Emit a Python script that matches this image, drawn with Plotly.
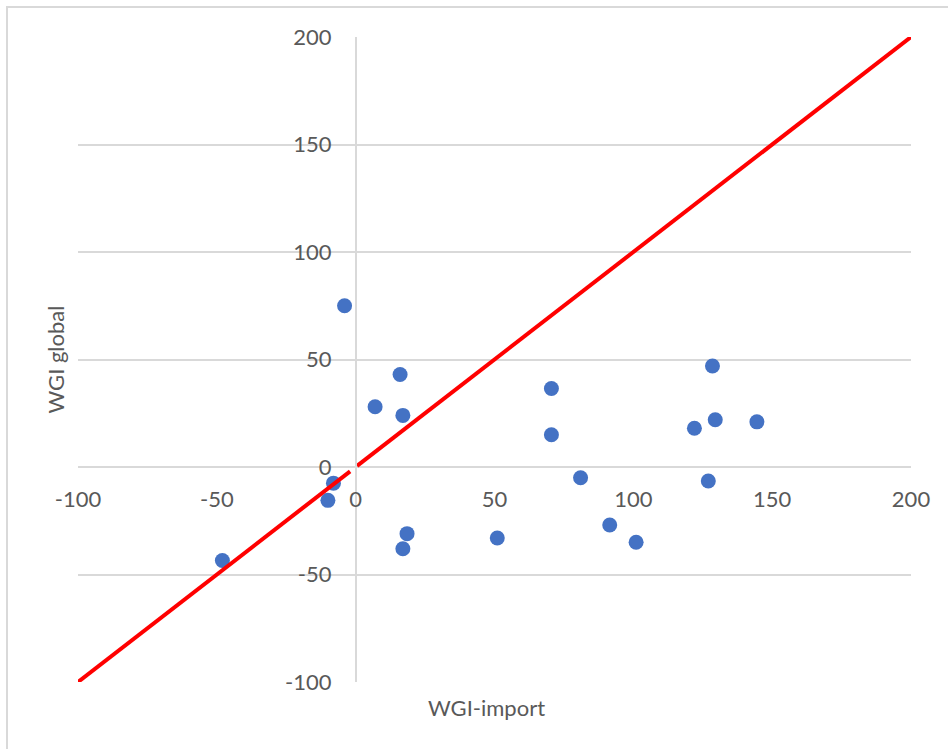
import plotly.graph_objects as go

# Data
wgi_import = [-4, 16, 7, 17, -8, -10, -48, 18.5, 17, 51, 70.5, 70.5, 81, 91.5, 101, 122, 128.5, 129.5, 127, 144.5]
wgi_global = [75, 43, 28, 24, -7.5, -15.5, -43.5, -31, -38, -33, 36.5, 15, -5, -27, -35, 18, 47, 22, -6.5, 21]

line_x = [-100, -2, None, 0.5, 200]
line_y = [-100, -2, None, 0.5, 200]

tick_vals = [-100, -50, 0, 50, 100, 150, 200]
tick_text = ["-100", "-50", "0", "50", "100", "150", "200"]

x_title = "WGI-import"
y_title = "WGI global"

W, H = 948, 749
L, R, T, B = 78, 37, 37, 67
pw, ph = W - L - R, H - T - B

font_family = "Lato, 'Open Sans', sans-serif"
txt_color = "#595959"
grid_color = "#d9d9d9"
fs = 22

fig = go.Figure()
fig.add_trace(go.Scatter(
    x=wgi_import, y=wgi_global, mode="markers",
    marker=dict(size=15, color="#4472C4", line=dict(width=0)),
    showlegend=False, hoverinfo="x+y"))
fig.add_trace(go.Scatter(
    x=line_x, y=line_y, mode="lines",
    line=dict(color="#FF0000", width=4),
    showlegend=False, hoverinfo="skip"))

fig.update_layout(
    width=W, height=H,
    margin=dict(l=L, r=R, t=T, b=B, pad=0),
    paper_bgcolor="white", plot_bgcolor="white",
    font=dict(family=font_family, color=txt_color, size=fs),
    xaxis=dict(
        range=[-100, 200], tickvals=tick_vals, ticktext=tick_text,
        showgrid=False, zeroline=False, showline=False,
        anchor="free", position=100 / 300,
        ticks="", ticklabelstandoff=17,
        tickfont=dict(family=font_family, color=txt_color, size=fs),
        fixedrange=True),
    yaxis=dict(
        range=[-100, 200], tickvals=tick_vals, ticktext=tick_text,
        showgrid=True, gridcolor=grid_color, gridwidth=1.5,
        zeroline=True, zerolinecolor=grid_color, zerolinewidth=1.5,
        showline=True, linecolor=grid_color, linewidth=1.5,
        anchor="free", position=100 / 300,
        ticks="", ticklabelstandoff=19,
        tickfont=dict(family=font_family, color=txt_color, size=fs),
        fixedrange=True),
    annotations=[
        dict(text=x_title, xref="paper", yref="paper",
             x=(486 - L) / pw, y=(H - B - 707) / ph,
             xanchor="center", yanchor="middle", showarrow=False,
             font=dict(family=font_family, color=txt_color, size=fs)),
        dict(text=y_title, xref="paper", yref="paper",
             x=(55 - L) / pw, y=0.5, textangle=-90,
             xanchor="center", yanchor="middle", showarrow=False,
             font=dict(family=font_family, color=txt_color, size=fs)),
    ],
    shapes=[
        dict(type="rect", xref="paper", yref="paper", layer="below",
             x0=(7 - L) / pw, x1=(W + 20 - L) / pw,
             y0=(H - B - (H + 20)) / ph, y1=(H - B - 7) / ph,
             line=dict(color=grid_color, width=2), fillcolor="rgba(0,0,0,0)"),
    ],
)

fig.write_html("out.html", config={"displayModeBar": False},
               post_script="document.body.style.margin='0';")
